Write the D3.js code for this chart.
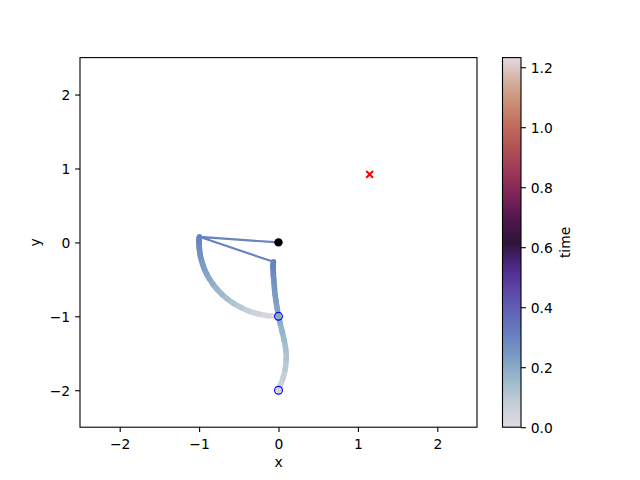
<!DOCTYPE html>
<html><head><meta charset="utf-8">
<script src="https://cdn.jsdelivr.net/npm/d3@7"></script>
<style>
body{margin:0;background:#fff}
svg{display:block}
text{font-family:"DejaVu Sans",sans-serif;font-size:13.89px;fill:#000}
</style>
</head><body><svg id="c" width="640" height="480"></svg>
<script>
// ---- data ----
const times  = [0, 0.0236, 0.0462, 0.0678, 0.0885, 0.1082, 0.1270, 0.1448, 0.1616, 0.1774, 0.1923, 0.2062, 0.2191, 0.2311, 0.2423, 0.2523, 0.2614, 0.2694, 0.2766, 0.2827, 0.2880, 0.2922, 0.2955, 0.2979, 0.2991];
const mass1X = [0, -0.129, -0.251, -0.364, -0.467, -0.560, -0.642, -0.713, -0.775, -0.827, -0.870, -0.905, -0.933, -0.955, -0.971, -0.983, -0.991, -0.996, -0.999, -1.000, -1.000, -0.999, -0.999, -0.998, -0.997];
const mass1Y = [-1, -0.992, -0.968, -0.932, -0.884, -0.829, -0.767, -0.701, -0.632, -0.563, -0.493, -0.426, -0.361, -0.298, -0.239, -0.186, -0.136, -0.093, -0.054, -0.020, 0.009, 0.032, 0.050, 0.063, 0.075];
const mass2X = [0, 0.006, 0.024, 0.055, 0.084, 0.098, 0.092, 0.072, 0.046, 0.021, -0.002, -0.017, -0.031, -0.043, -0.050, -0.055, -0.060, -0.064, -0.065, -0.066, -0.068, -0.068, -0.068, -0.066, -0.063];
const mass2Y = [-2, -1.983, -1.932, -1.842, -1.715, -1.577, -1.453, -1.325, -1.207, -1.095, -0.986, -0.890, -0.795, -0.708, -0.623, -0.559, -0.500, -0.453, -0.411, -0.375, -0.346, -0.325, -0.305, -0.285, -0.263];
const pivot = [0, 0];
const startPoints = [[0, -1], [0, -2]];
const targetPoint = [1.148, 0.921];
const xTicks = [-2, -1, 0, 1, 2];
const yTicks = [-2, -1, 0, 1, 2];
const cbarTicks = [0, 0.2, 0.4, 0.6, 0.8, 1.0, 1.2];
const timeMax = 1.232;

// twilight-like colormap stops
const cmapPos = [0, 0.063, 0.125, 0.188, 0.25, 0.313, 0.375, 0.438, 0.5, 0.563, 0.625, 0.688, 0.75, 0.813, 0.875, 0.938, 1];
const cmapCol = ["#e2d9e2","#c4cfd6","#9dbacb","#7b9dc4","#6780bf","#5f63b7","#5c44a6","#4d2784","#2f1436","#4f1750","#7a2356","#9b3657","#b14f55","#c06b5e","#ca8d73","#d3b29e","#e2d9e2"];

// ---- layout ----
const L = 80, R = 477, T = 57.6, B = 427.2;
const cbL = 502.5, cbR = 521;
const svg = d3.select("#c");
const x = d3.scaleLinear().domain([-2.5, 2.5]).range([L, R]);
const y = d3.scaleLinear().domain([-2.5, 2.5]).range([B, T]);
const cmap = d3.scaleLinear().domain(cmapPos).range(cmapCol).interpolate(d3.interpolateRgb);
const tNorm = d3.scaleLinear().domain([0, timeMax]).range([0, 1]);
const color = t => cmap(tNorm(t));
const fmt = d => d < 0 ? "\u2212" + Math.abs(d) : String(d);

// axes
const gx = svg.append("g").attr("transform", `translate(0,${B})`)
  .call(d3.axisBottom(x).tickValues(xTicks).tickSize(4.9).tickPadding(7.3).tickFormat(fmt));
const gy = svg.append("g").attr("transform", `translate(${L},0)`)
  .call(d3.axisLeft(y).tickValues(yTicks).tickSize(4.9).tickPadding(4.9).tickFormat(fmt));
[gx, gy].forEach(g => {
  g.attr("font-size", null).attr("font-family", null);
  g.select(".domain").remove();
  g.selectAll(".tick line").attr("stroke", "#000").attr("stroke-width", 1.1);
});
gy.selectAll(".tick text").attr("dy", "0.36em");

// tracks (smooth Catmull-Rom segments, each coloured by time)
const plot = svg.append("g");
function track(xs, ys) {
  const P = xs.map((v, i) => [x(v), y(ys[i])]);
  const m = P.length;
  for (let i = 0; i < m - 1; i++) {
    const p0 = P[Math.max(i - 1, 0)], p1 = P[i], p2 = P[i + 1], p3 = P[Math.min(i + 2, m - 1)];
    const c1 = [p1[0] + (p2[0] - p0[0]) / 6, p1[1] + (p2[1] - p0[1]) / 6];
    const c2 = [p2[0] - (p3[0] - p1[0]) / 6, p2[1] - (p3[1] - p1[1]) / 6];
    plot.append("path")
      .attr("d", `M${p1}C${c1} ${c2} ${p2}`)
      .attr("fill", "none")
      .attr("stroke", color((times[i] + times[i + 1]) / 2))
      .attr("stroke-width", 5.6).attr("stroke-linecap", "round");
  }
}
track(mass1X, mass1Y);
track(mass2X, mass2Y);

// rods at final time
const n = times.length - 1;
plot.append("polyline")
  .attr("points", [[pivot[0], pivot[1]], [mass1X[n], mass1Y[n]], [mass2X[n], mass2Y[n]]].map(p => x(p[0]) + "," + y(p[1])).join(" "))
  .attr("fill", "none").attr("stroke", color(times[n])).attr("stroke-width", 2.1);

// pivot
plot.append("circle").attr("cx", x(pivot[0])).attr("cy", y(pivot[1])).attr("r", 4.2).attr("fill", "#000");

// start markers
plot.selectAll(".start").data(startPoints).enter().append("circle")
  .attr("cx", d => x(d[0])).attr("cy", d => y(d[1])).attr("r", 3.9)
  .attr("fill", "none").attr("stroke", "#0000ff").attr("stroke-width", 1.2);

// target x marker
const tx = x(targetPoint[0]), ty = y(targetPoint[1]), h = 3.4;
plot.append("path").attr("d", `M${tx - h},${ty - h}L${tx + h},${ty + h}M${tx - h},${ty + h}L${tx + h},${ty - h}`)
  .attr("stroke", "#ff0000").attr("stroke-width", 2);

// frame
svg.append("rect").attr("x", L).attr("y", T).attr("width", R - L).attr("height", B - T)
  .attr("fill", "none").attr("stroke", "#000").attr("stroke-width", 1.1);

// axis labels
svg.append("text").attr("x", (L + R) / 2).attr("y", 466.5).attr("text-anchor", "middle").text("x");
svg.append("text").attr("transform", `translate(39.5,${(T + B) / 2}) rotate(-90)`).attr("text-anchor", "middle").text("y");

// colorbar
const cy = d3.scaleLinear().domain([0, timeMax]).range([B, T]);
const grad = svg.append("defs").append("linearGradient").attr("id", "cg")
  .attr("x1", 0).attr("y1", 1).attr("x2", 0).attr("y2", 0);
d3.range(0, 1.0001, 0.02).forEach(p => grad.append("stop").attr("offset", p).attr("stop-color", cmap(p)));
svg.append("rect").attr("x", cbL).attr("y", T).attr("width", cbR - cbL).attr("height", B - T)
  .attr("fill", "url(#cg)").attr("stroke", "#000").attr("stroke-width", 1.1);
const gc = svg.append("g").attr("transform", `translate(${cbR},0)`)
  .call(d3.axisRight(cy).tickValues(cbarTicks).tickSize(4.9).tickPadding(4.9).tickFormat(d3.format(".1f")));
gc.attr("font-size", null).attr("font-family", null);
gc.select(".domain").remove();
gc.selectAll(".tick line").attr("stroke", "#000").attr("stroke-width", 1.1);
gc.selectAll(".tick text").attr("dy", "0.36em");
svg.append("text").attr("transform", `translate(570,${(T + B) / 2}) rotate(-90)`).attr("text-anchor", "middle").text("time");
</script>
</body></html>
